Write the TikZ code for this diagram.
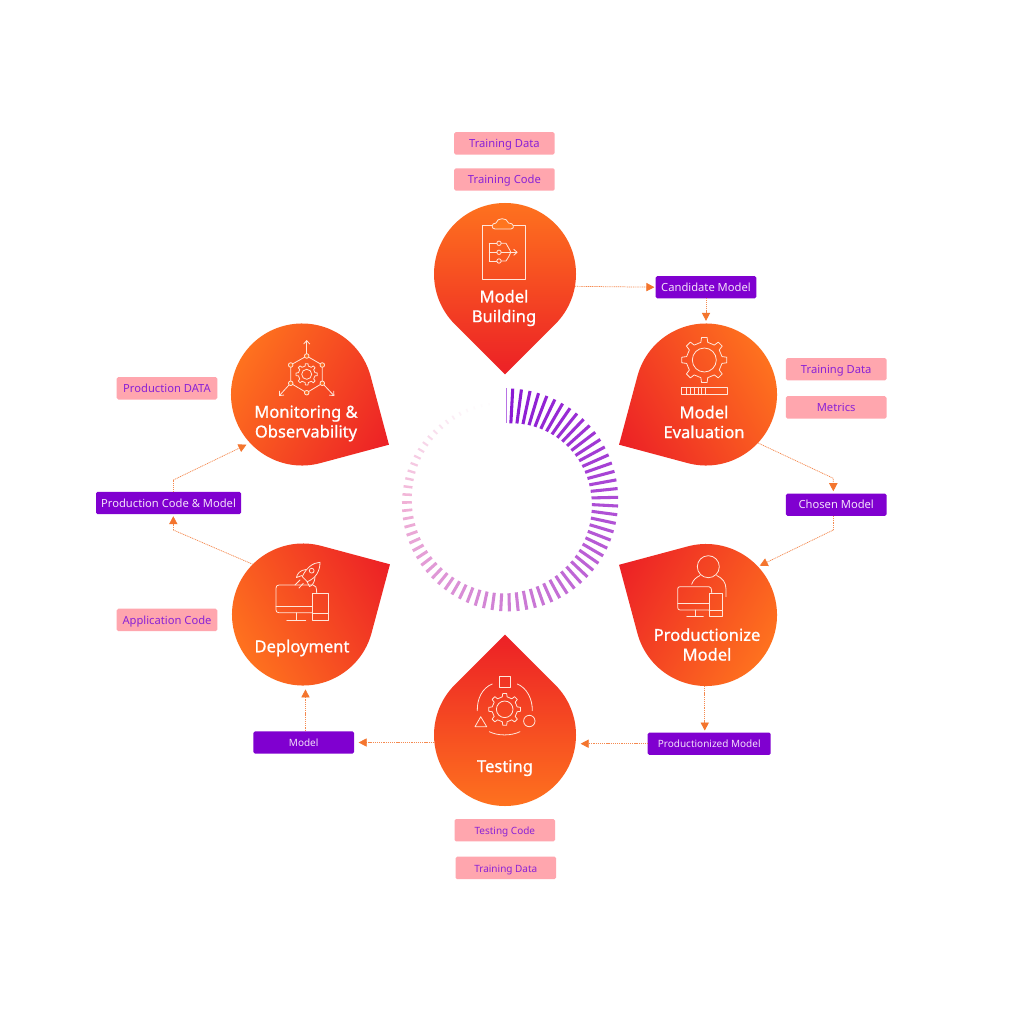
\documentclass[tikz,border=0pt]{standalone}
\usepackage{fontspec}
\setmainfont{Noto Sans}
\newfontfamily\dropfont[FakeBold=0.9]{Noto Sans}
\usetikzlibrary{arrows.meta,calc}
\definecolor{dropo}{HTML}{FF751E}
\definecolor{dropr}{HTML}{EC2026}
\definecolor{pinkbox}{HTML}{FFA6AE}
\definecolor{pinktext}{HTML}{8A22D6}
\definecolor{darkbox}{HTML}{8000D0}
\definecolor{darktext}{HTML}{F3E0FA}
\definecolor{flow}{HTML}{F58A50}
\definecolor{flowtip}{HTML}{F4752E}
\definecolor{iconc}{HTML}{FFE6DA}
\definecolor{spkA}{HTML}{7E00D0}
\definecolor{spkB}{HTML}{F0AAD2}
\tikzset{
  boxbase/.style={minimum width=100.6*.75pt,minimum height=22.4*.75pt,inner sep=0pt,outer sep=0pt,rounded corners=1.2pt,font=\fontsize{8.4}{10}\selectfont,anchor=center,text height=6.4pt,text depth=0pt},
  inbox/.style={boxbase,fill=pinkbox,text=pinktext},
  outbox/.style={boxbase,fill=darkbox,text=darktext},
  smalltext/.style={font=\fontsize{7.5}{9}\selectfont},
  dropnode/.style={circle,minimum size=142*.75pt,inner sep=0pt,outer sep=0pt},
  droptext/.style={text=white,align=center,font=\fontsize{12.4}{14.8}\dropfont,inner sep=0pt},
  flowline/.style={draw=flow,line width=.55pt,dash pattern=on .8pt off .6pt},
  flowarrow/.style={flowline,-{Triangle[length=6pt,width=6.2pt,color=flowtip,sep=0pt]}},
  iconl/.style={draw=iconc,line width=.6pt,line join=round,line cap=round},
  iconarrow/.style={iconl,-{Straight Barb[length=2.6pt,width=4.6pt]}},
}
\newcommand{\dropbody}[3]{%
  \begin{scope}[transform canvas={shift={(#1,#2)},rotate=#3}]
    \begin{scope}[y=.75pt]
      \shade[top color=dropo,bottom color=dropr] (0,-100.4) -- (225:71) arc[start angle=225,end angle=-45,radius=71] -- cycle;
    \end{scope}
  \end{scope}}
\newcommand{\gearicon}[5]{%
  \draw[iconl,shift={(#1,#2)}] (-11:#4)
    \foreach \i in {0,45,...,315}{ -- ({\i-11}:#4) -- ({\i-7}:#3) -- ({\i+7}:#3) -- ({\i+11}:#4) } -- cycle;
  \draw[iconl] (#1,#2) circle[radius=#5];}
\begin{document}
\begin{tikzpicture}[x=.75pt,y=-.75pt]
\useasboundingbox (0,0) rectangle (1009,1009);
\fill[white] (0,0) rectangle (1009,1009);

% spoke ring
\foreach \n in {1,...,78}{
  \pgfmathsetmacro{\ang}{3.1+4.5*(\n-1)}
  \pgfmathsetmacro{\outr}{\ang<180 ? 111.5 : 111.5-(\ang-180)*13/170}
  \pgfmathsetmacro{\len}{35-0.094*\ang}
  \pgfmathsetmacro{\inr}{\outr-\len}
  \pgfmathsetmacro{\p}{max(0,100*(1-\ang/270))}
  \pgfmathsetmacro{\op}{max(.04,min(.9,(345-\ang)/85))}
  \pgfmathsetmacro{\wid}{\ang<240 ? 2.3 : 2.3-(\ang-240)*.012}
  \pgfmathsetmacro{\xa}{506.7+\inr*sin(\ang)}
  \pgfmathsetmacro{\ya}{500-\inr*cos(\ang)}
  \pgfmathsetmacro{\xb}{506.7+\outr*sin(\ang)}
  \pgfmathsetmacro{\yb}{500-\outr*cos(\ang)}
  \draw[line width=\wid pt,draw=spkA!\p!spkB,opacity=\op] (\xa,\ya) -- (\xb,\yb);
}
\draw[spkA,opacity=.55,line width=.8pt] (506.7,388.3) -- (506.7,423.3);

% drops
\dropbody{505}{274}{0}
\dropbody{706}{394.5}{-60}
\dropbody{706}{615}{-120}
\dropbody{505}{735}{180}
\dropbody{303}{614.5}{120}
\dropbody{302}{394.5}{60}
\node[dropnode] (mbuild) at (505,274) {};
\node[dropnode] (meval) at (706,394.5) {};
\node[dropnode] (mprod) at (706,615) {};
\node[dropnode] (mtest) at (505,735) {};
\node[dropnode] (mdep) at (303,614.5) {};
\node[dropnode] (mmon) at (302,394.5) {};

\node[droptext] (tbuild) at (504,308) {Model\\Building};
\node[droptext] (teval) at (704,422) {Model\\Evaluation};
\node[droptext] (tmon) at (306,423.5) {Monitoring \&\\Observability};
\node[droptext] (tprod) at (707,644.5) {Productionize\\Model};
\node[droptext] (ttest) at (505,768) {Testing};
\node[droptext] (tdep) at (302,648) {Deployment};

% boxes
\node[inbox] (b1) at (504.4,143.4) {Training Data};
\node[inbox] (b2) at (504.4,179.5) {Training Code};
\node[outbox] (cand) at (706,287.2) {Candidate Model};
\node[inbox] (b3) at (836.2,369.2) {Training Data};
\node[inbox] (b4) at (836.2,407.4) {Metrics};
\node[outbox] (chosen) at (836.2,504.7) {Chosen Model};
\node[inbox] (b5) at (167,388.3) {Production DATA};
\node[outbox,minimum width=145*.75pt] (pcm) at (168.5,503) {Production Code \& Model};
\node[inbox] (b6) at (167,619.9) {Application Code};
\node[outbox,smalltext] (model) at (303.7,742.5) {Model};
\node[outbox,smalltext,minimum width=123*.75pt] (pm) at (709.2,743.7) {Productionized Model};
\node[inbox,smalltext] (b7) at (504.8,830.2) {Testing Code};
\node[inbox,smalltext] (b8) at (505.8,867.9) {Training Data};

% connectors
\coordinate (c3) at (833.3,478.3);
\coordinate (c4) at (833.3,530);
\coordinate (c9) at (173.3,530);
\coordinate (c10) at (173.3,480);
\draw[flowarrow,shorten >=1pt] (mbuild.-10.6) -- (cand.west);
\draw[flowarrow,shorten >=2pt] (cand.south) -- (meval.north);
\draw[flowarrow,shorten >=1.7pt] (meval.-43) -- (c3) -- (c3 |- chosen.north);
\draw[flowline] (c4 |- chosen.south) -- (c4);
\draw[flowarrow,shorten >=1.5pt] (c4) -- (mprod.43);
\draw[flowarrow,shorten >=1.5pt] (mprod.-91) -- (mprod.-91 |- pm.north);
\draw[flowarrow,shorten >=3.5pt] (pm.west) -- (mtest.east |- pm.west);
\draw[flowarrow,shorten >=3.5pt] (mtest.west |- model.east) -- (model.east);
\draw[flowarrow,shorten >=3pt] (model.north -| mdep.-88) -- (mdep.-88);
\draw[flowline] (mdep.135) -- (c9);
\draw[flowarrow,shorten >=1.5pt] (c9) -- (c9 |- pcm.south);
\draw[flowline] (c10 |- pcm.north) -- (c10);
\draw[flowarrow,shorten >=3pt] (c10) -- (mmon.-137);

% icon: model building
\draw[iconl] (482,225) rectangle (525,279);
\draw[iconl,fill=dropo] (495,229) .. controls (491,229) and (491,223) .. (496,223) .. controls (497,217.5) and (507,217) .. (508.5,223) .. controls (514,222.5) and (515,229) .. (511,229) -- cycle;
\foreach \yy/\nm in {243.3/p,252.3/q,261/r}{
  \draw[iconl] (499,\yy) circle[radius=2.2];
  \draw[iconl] (489.3,\yy) -- (496.8,\yy);
}
\draw[iconl] (489.3,243.3) -- (489.3,261);
\draw[iconl] (501.2,243.3) -- (506,243.3) .. controls (508,247) and (510,250) .. (510.7,252.3) .. controls (510,255) and (508,258) .. (506,261) -- (501.2,261);
\draw[iconl] (501.2,252.3) -- (510.7,252.3);
\draw[iconarrow] (510.7,252.3) -- (517.7,252.3);

% icon: evaluation
\gearicon{704.3}{360}{22.7}{18}{12}
\draw[iconl] (681.7,387.3) rectangle (727.3,394.7);
\foreach \xx in {686,690,694,698,701.7,705.7}{\draw[iconl] (\xx,387.3) -- (\xx,394.7);}

% icon: monitoring
\draw[iconl] (306.7,356) -- (322.3,365) -- (322.3,383.3) -- (306.7,392.7) -- (290.7,383.3) -- (290.7,365) -- cycle;
\foreach \xx/\yy in {306.7/356,322.3/365,322.3/383.3,306.7/392.7,290.7/383.3,290.7/365}{
  \draw[iconl,fill=dropo!92!dropr] (\xx,\yy) circle[radius=2.3];
}
\draw[iconarrow] (306.7,353.7) -- (306.7,340);
\draw[iconarrow] (289,385) -- (279,396);
\draw[iconarrow] (324,385) -- (334.3,396);
\gearicon{306.7}{374.3}{10.7}{8.4}{5}

% icon: deployment
\draw[iconl] (312.3,606) -- (276,606);
\draw[iconl] (312.3,612.7) -- (279,612.7) .. controls (277,612.7) and (276,611.7) .. (276,610) -- (276,588) .. controls (276,586) and (277,585) .. (279,585) -- (313,585) .. controls (315.5,585) and (316.7,587) .. (316.7,593.3);
\draw[iconl] (312.3,593.3) rectangle (328.3,620);
\draw[iconl] (312.3,613.3) -- (328.3,613.3);
\draw[iconl] (296,612.7) -- (296,620);
\draw[iconl] (286.7,620) -- (305.7,620);
\draw[iconl] (320,562.3) .. controls (313,562.5) and (306,568) .. (302.3,576.7) -- (307.3,581.7) .. controls (316,578) and (320,571) .. (320,562.3) -- cycle;
\draw[iconl] (311.7,570.7) circle[radius=2.4];
\draw[iconl] (306,569.5) .. controls (300,570) and (297,574) .. (296.5,577.5) -- (302,575.5);
\draw[iconl] (315,577) .. controls (315,582) and (312,586) .. (309.5,586.5) -- (307,581.5);
\draw[iconl] (295,585) -- (300,580);
\draw[iconl] (299,588) -- (303.3,583.3);

% icon: productionize
\draw[iconl] (708.3,566.7) circle[radius=11];
\draw[iconl] (691.7,584.3) .. controls (693,580) and (696,577.5) .. (700,575.5);
\draw[iconl] (716.7,575.5) .. controls (722,578) and (726,582) .. (726,589) -- (726,596.7);
\draw[iconl] (709,610) -- (680,610) .. controls (678.5,610) and (677.7,609) .. (677.7,607.5) -- (677.7,589) .. controls (677.7,587.5) and (678.5,586.7) .. (680,586.7) -- (709,586.7) .. controls (710.7,586.7) and (711.7,588) .. (711.7,593.3);
\draw[iconl] (677.7,603.3) -- (709,603.3);
\draw[iconl] (709,593.3) rectangle (722.3,616);
\draw[iconl] (709,610) -- (722.3,610);
\draw[iconl] (695,610) -- (695,616);
\draw[iconl] (686.7,616) -- (703.3,616);

% icon: testing
\draw[iconl] (499,676) rectangle (510.7,687.3);
\gearicon{504.7}{709.3}{16}{12.7}{8.3}
\draw[iconl] (475,726.7) -- (486.7,726.7) -- (480.7,716.7) -- cycle;
\draw[iconl] (529.3,721) circle[radius=5.7];
\draw[iconl] (492.3,684) .. controls (482,688) and (477,699) .. (477.3,710.7);
\draw[iconl] (517.3,684) .. controls (527,688) and (532.5,699) .. (532.3,710.7);
\draw[iconl] (489.3,731.7) .. controls (498,736) and (511,736) .. (520,731.7);
\end{tikzpicture}
\end{document}
